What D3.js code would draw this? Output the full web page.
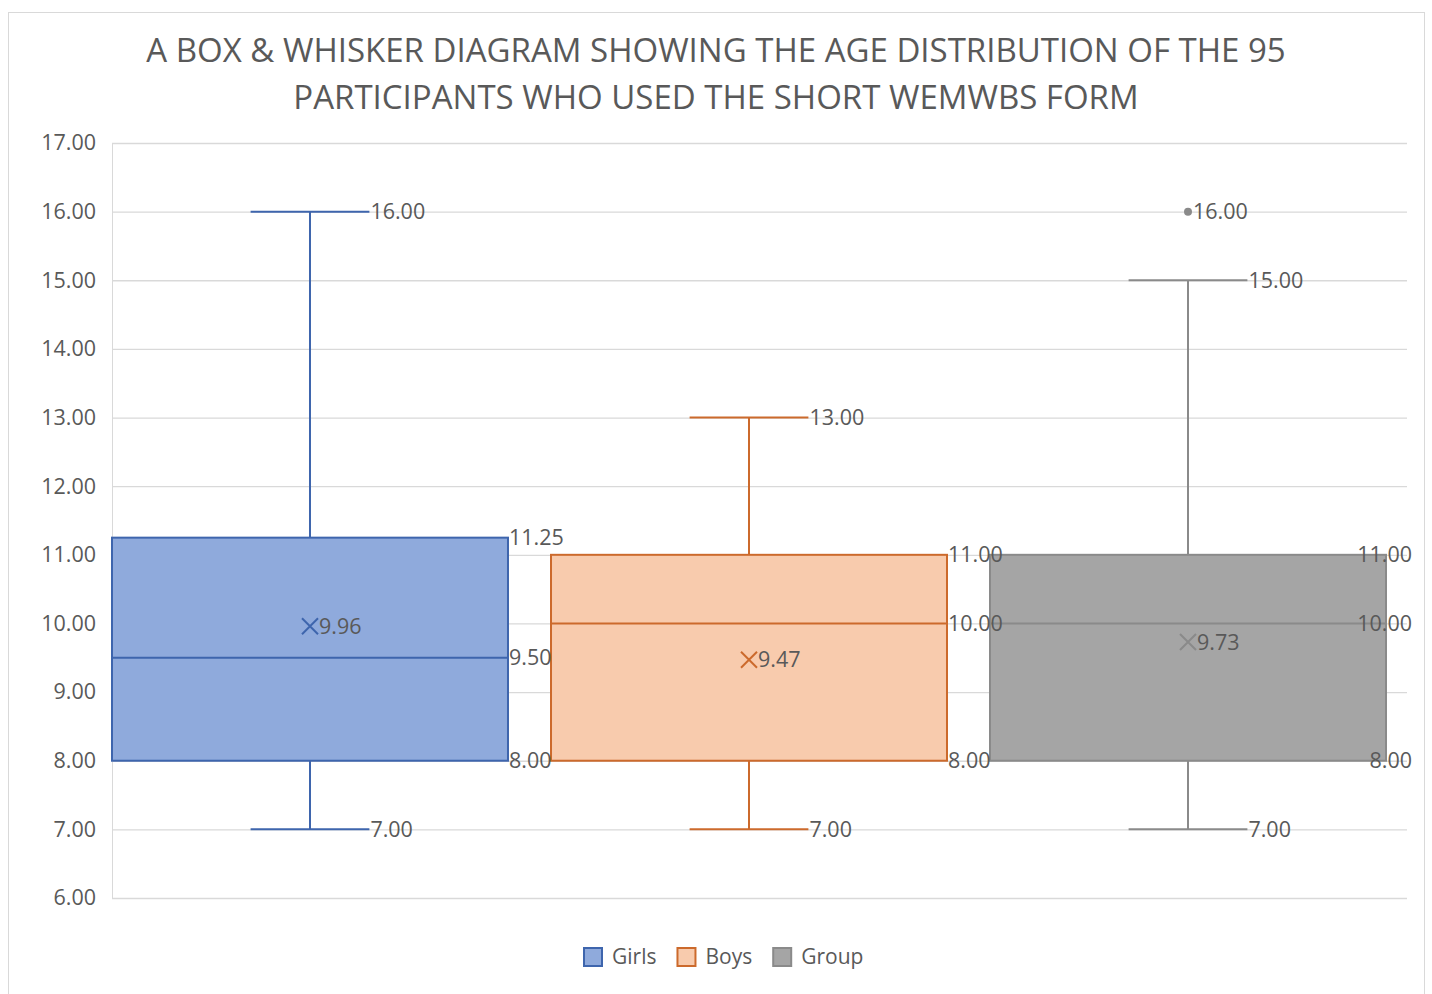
<!DOCTYPE html>
<html>
<head>
<meta charset="utf-8">
<script src="https://cdn.jsdelivr.net/npm/d3@7"></script>
<style>
  body { margin: 0; background: #fff; }
  text { font-family: "Open Sans", sans-serif; fill: #595959; }
</style>
</head>
<body>
<svg id="chart" width="1432" height="994"></svg>
<script>
// chart values
var series = ['Girls', 'Boys', 'Group'];
var mins = [7, 7, 7];
var q1s = [8, 8, 8];
var medians = [9.5, 10, 10];
var q3s = [11.25, 11, 11];
var maxs = [16, 13, 15];
var means = [9.96, 9.47, 9.73];
var outliers = [[], [], [16]];
var yTicks = [6, 7, 8, 9, 10, 11, 12, 13, 14, 15, 16, 17];
var titleLines = [
  'A BOX & WHISKER DIAGRAM SHOWING THE AGE DISTRIBUTION OF THE 95',
  'PARTICIPANTS WHO USED THE SHORT WEMWBS FORM'
];

var fills = ['#8FAADC', '#F8CBAD', '#A5A5A5'];
var strokes = ['#3E65AD', '#CC6A2C', '#8A8A8A'];

var svg = d3.select('#chart');
var plot = { left: 112, right: 1407, top: 143, bottom: 898 };
var fmt = d3.format('.2f');

// outer chart border
svg.append('rect')
  .attr('x', 8.5).attr('y', 12.5)
  .attr('width', 1416).attr('height', 1000)
  .attr('fill', 'none').attr('stroke', '#D9D9D9');

var y = d3.scaleLinear().domain([6, 17]).range([plot.bottom, plot.top]);
var x = d3.scaleBand().domain(series).range([plot.left, 1386])
  .paddingInner(0.098).paddingOuter(0);

// title
svg.append('g').selectAll('text')
  .data(titleLines)
  .join('text')
  .attr('x', 716)
  .attr('y', function(d, i) { return 62 + i * 47; })
  .attr('text-anchor', 'middle')
  .style('font-size', '33px')
  .text(function(d) { return d; });

// gridlines + y axis
var yAxis = d3.axisLeft(y).tickValues(yTicks).tickFormat(fmt)
  .tickSize(-(plot.right - plot.left)).tickPadding(16);
var gy = svg.append('g')
  .attr('transform', 'translate(' + plot.left + ',0)')
  .call(yAxis);
gy.select('.domain').attr('stroke', '#D9D9D9');
gy.selectAll('.tick line').attr('stroke', '#D9D9D9').attr('stroke-width', 1.3);
gy.selectAll('.tick text').style('font-size', '21.5px').attr('fill', '#595959');

var marks = svg.append('g');
var labels = svg.append('g');

var labelSize = '21.5px';
function addLabel(xPos, yVal, txt) {
  var t = labels.append('text')
    .attr('x', xPos)
    .attr('y', y(yVal))
    .attr('dy', '0.35em')
    .style('font-size', labelSize)
    .text(txt);
  var w = t.node().getComputedTextLength();
  if (xPos + w > 1412) t.attr('x', 1412 - w);
  return t;
}

series.forEach(function(name, i) {
  var g = marks.append('g');
  var x0 = x(name);
  var bw = x.bandwidth();
  var cx = x0 + bw / 2;
  var capHalf = bw * 0.15;

  // whiskers
  g.append('line')
    .attr('x1', cx).attr('x2', cx)
    .attr('y1', y(maxs[i])).attr('y2', y(q3s[i]))
    .attr('stroke', strokes[i]).attr('stroke-width', 2);
  g.append('line')
    .attr('x1', cx).attr('x2', cx)
    .attr('y1', y(q1s[i])).attr('y2', y(mins[i]))
    .attr('stroke', strokes[i]).attr('stroke-width', 2);
  [maxs[i], mins[i]].forEach(function(v) {
    g.append('line')
      .attr('x1', cx - capHalf).attr('x2', cx + capHalf)
      .attr('y1', y(v)).attr('y2', y(v))
      .attr('stroke', strokes[i]).attr('stroke-width', 2);
  });

  // box
  g.append('rect')
    .attr('x', x0).attr('y', y(q3s[i]))
    .attr('width', bw).attr('height', y(q1s[i]) - y(q3s[i]))
    .attr('fill', fills[i]).attr('stroke', strokes[i]).attr('stroke-width', 2);
  g.append('line')
    .attr('x1', x0).attr('x2', x0 + bw)
    .attr('y1', y(medians[i])).attr('y2', y(medians[i]))
    .attr('stroke', strokes[i]).attr('stroke-width', 2);

  // mean marker
  var m = 8, my = y(means[i]);
  g.append('path')
    .attr('d', 'M' + (cx - m) + ',' + (my - m) + 'L' + (cx + m) + ',' + (my + m) +
               'M' + (cx - m) + ',' + (my + m) + 'L' + (cx + m) + ',' + (my - m))
    .attr('stroke', strokes[i]).attr('stroke-width', 2).attr('fill', 'none');

  // outliers
  outliers[i].forEach(function(v) {
    g.append('circle')
      .attr('cx', cx).attr('cy', y(v)).attr('r', 4)
      .attr('fill', strokes[i]);
    addLabel(cx + 5, v, fmt(v));
  });

  // data labels
  addLabel(cx + capHalf + 1, maxs[i], fmt(maxs[i]));
  addLabel(cx + capHalf + 1, mins[i], fmt(mins[i]));
  addLabel(x0 + bw + 1, q3s[i], fmt(q3s[i]));
  addLabel(x0 + bw + 1, medians[i], fmt(medians[i]));
  addLabel(x0 + bw + 1, q1s[i], fmt(q1s[i]));
  addLabel(cx + m + 1, means[i], fmt(means[i]));
});

// legend
var legend = svg.append('g').attr('transform', 'translate(583,947)');
var lx = 0;
series.forEach(function(name, i) {
  var item = legend.append('g').attr('transform', 'translate(' + lx + ',0)');
  item.append('rect')
    .attr('x', 1).attr('y', 1).attr('width', 18).attr('height', 18)
    .attr('fill', fills[i]).attr('stroke', strokes[i]).attr('stroke-width', 2);
  var t = item.append('text')
    .attr('x', 29).attr('y', 10).attr('dy', '0.35em')
    .style('font-size', '21px')
    .text(name);
  lx += 29 + t.node().getComputedTextLength() + 20;
});
</script>
</body>
</html>
